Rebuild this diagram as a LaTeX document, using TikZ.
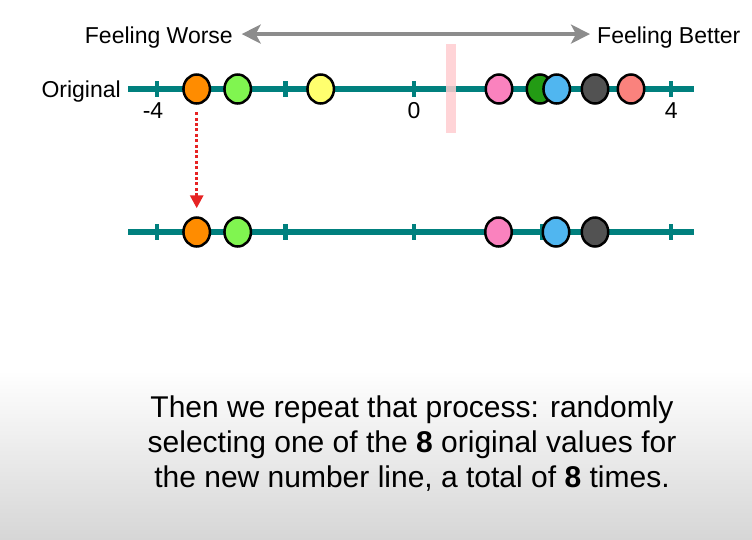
\documentclass[tikz,border=0pt]{standalone}
\usepackage{fontspec}
\setmainfont{Liberation Sans}
\usetikzlibrary{arrows.meta, positioning, shapes.geometric}

\definecolor{lineteal}{RGB}{0,128,126}
\definecolor{dotorange}{RGB}{255,140,0}
\definecolor{dotlime}{RGB}{128,245,80}
\definecolor{dotyellow}{RGB}{255,255,110}
\definecolor{dotpink}{RGB}{250,130,190}
\definecolor{dotgreen}{RGB}{35,155,20}
\definecolor{dotblue}{RGB}{80,182,240}
\definecolor{dotgray}{RGB}{82,82,82}
\definecolor{dotsalmon}{RGB}{250,130,125}
\definecolor{bandpink}{RGB}{255,205,208}
\definecolor{arrowgray}{RGB}{140,140,140}
\definecolor{pickred}{RGB}{230,35,35}

\begin{document}
\begin{tikzpicture}[x=1pt, y=-1pt,
  dot/.style={ellipse, draw=black, line width=2.5pt, minimum width=26.5pt, minimum height=29pt, inner sep=0pt},
  lbl/.style={inner sep=0pt, font=\fontsize{23}{27}\selectfont},
  numline/.style={lineteal, line width=5.5pt},
  tickmark/.style={lineteal, line width=4.5pt}]
  % canvas in pixels of the reference: x right, y down
  \useasboundingbox (0,0) rectangle (752,539);
  \shade[top color=white, bottom color=gray!32] (0,370) rectangle (752,539);

  \def\xo{414} \def\xs{64.3}
  \def\yA{89} \def\yB{232}

  % direction arrow
  \node[lbl, anchor=base east] (worse) at (233,43) {Feeling Worse};
  \node[lbl, anchor=base west] (better) at (597,43) {Feeling Better};
  \draw[arrowgray, line width=4pt, {Stealth[length=19pt, width=19pt, inset=5pt]}-{Stealth[length=19pt, width=19pt, inset=5pt]},
        shorten <=8.7pt, shorten >=7pt]
    ([yshift=3pt]worse.east) -- ([yshift=3pt]better.west);

  % the two number lines with ticks at -4, -2, 0, 2, 4
  \foreach \y/\n in {\yA/top, \yB/bot} {
    \coordinate (\n-l) at (128,\y);
    \coordinate (\n-r) at (694,\y);
    \draw[numline] (\n-l) -- (\n-r);
    \foreach \v in {-4,-2,0,2,4}
      \draw[tickmark] (\xo+\xs*\v, \y-8) -- (\xo+\xs*\v, \y+8);
  }
  \node[lbl, anchor=base east] (orig) at (121,97) {Original};
  \node[lbl, anchor=base] (lbl-m4) at (153,118) {-4};
  \node[lbl, anchor=base] (lbl-0) at (\xo,118) {0};
  \node[lbl, anchor=base] (lbl-4) at (\xo+\xs*4,118) {4};

  % threshold band
  \fill[bandpink, opacity=0.85] (445.7,44) rectangle (455.7,133);

  % original values
  \foreach \x/\c/\n in {196.7/dotorange/a, 237.7/dotlime/b, 320.7/dotyellow/c,
                        499/dotpink/d, 540/dotgreen/e, 556.7/dotblue/f,
                        595/dotgray/g, 631/dotsalmon/h}
    \node[dot, fill=\c] (top-\n) at (\x,\yA) {};

  % bootstrapped values
  \foreach \x/\c/\n in {196.7/dotorange/a, 237.7/dotlime/b, 498.5/dotpink/d,
                        556/dotblue/f, 595/dotgray/g}
    \node[dot, fill=\c] (bot-\n) at (\x,\yB) {};

  % pick one value
  \draw[pickred, line width=3pt, dash pattern=on 3pt off 2.4pt,
        -{Triangle[length=13pt, width=13pt]}, shorten <=7.5pt, shorten >=8pt]
    (top-a) -- (bot-a);

  \node[inner sep=0pt, anchor=north, align=center, font=\fontsize{30}{35}\selectfont] (caption) at (412,396)
    {Then we repeat that process: randomly\\
     selecting one of the \textbf{8} original values for\\
     the new number line, a total of \textbf{8} times.};
\end{tikzpicture}
\end{document}
